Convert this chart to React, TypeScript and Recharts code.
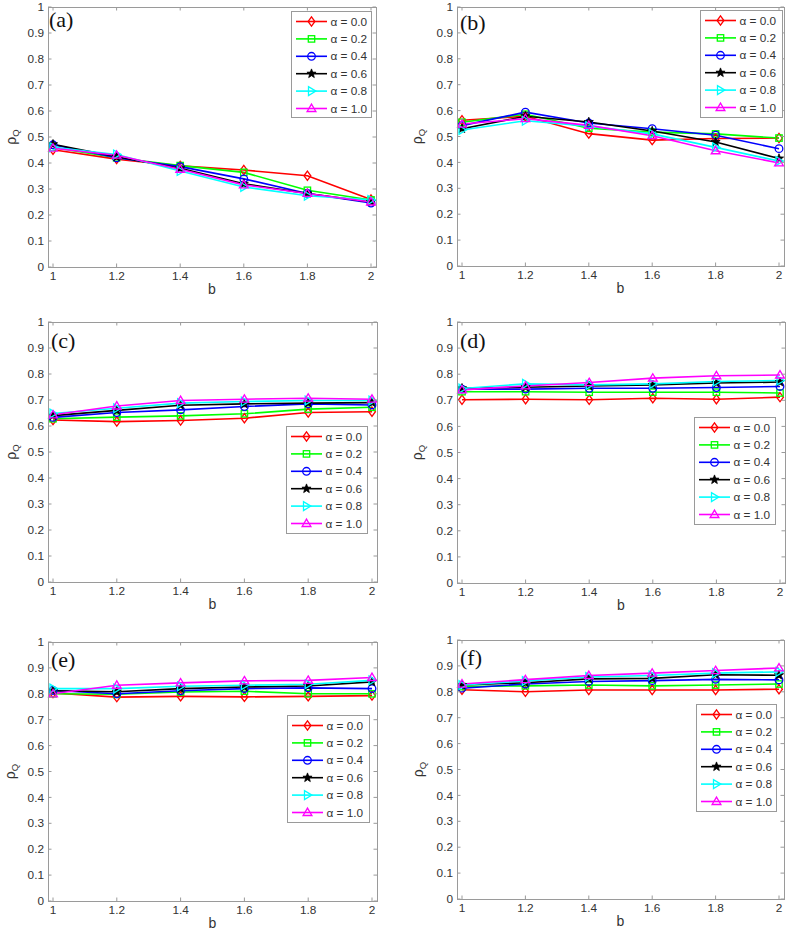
import React from 'react';
import { LineChart, Line, XAxis, YAxis, Legend } from 'recharts';

const bValues = [1, 1.2, 1.4, 1.6, 1.8, 2];
const yTicks = [0, 0.1, 0.2, 0.3, 0.4, 0.5, 0.6, 0.7, 0.8, 0.9, 1];
const alphaLabels = ['α = 0.0', 'α = 0.2', 'α = 0.4', 'α = 0.6', 'α = 0.8', 'α = 1.0'];
const seriesColors = ['#ff0000', '#00ff00', '#0000ff', '#000000', '#00ffff', '#ff00ff'];
const seriesMarkers = ['diamond', 'square', 'circle', 'star', 'right', 'up'];

// rho_Q per alpha (rows) against b (columns)
const rhoA = [
  [0.451, 0.415, 0.389, 0.373, 0.351, 0.26],
  [0.46, 0.42, 0.39, 0.364, 0.295, 0.258],
  [0.47, 0.42, 0.386, 0.339, 0.283, 0.246],
  [0.472, 0.424, 0.38, 0.32, 0.283, 0.25],
  [0.46, 0.433, 0.369, 0.308, 0.274, 0.258],
  [0.457, 0.43, 0.376, 0.316, 0.283, 0.25],
];
const rhoB = [
  [0.563, 0.578, 0.511, 0.486, 0.492, 0.494],
  [0.555, 0.586, 0.532, 0.517, 0.51, 0.494],
  [0.542, 0.594, 0.552, 0.53, 0.505, 0.453],
  [0.53, 0.578, 0.556, 0.521, 0.479, 0.415],
  [0.525, 0.561, 0.54, 0.51, 0.458, 0.405],
  [0.548, 0.569, 0.543, 0.503, 0.445, 0.398],
];
const rhoC = [
  [0.623, 0.617, 0.621, 0.63, 0.652, 0.655],
  [0.628, 0.634, 0.639, 0.647, 0.665, 0.672],
  [0.633, 0.652, 0.662, 0.675, 0.685, 0.681],
  [0.64, 0.66, 0.68, 0.685, 0.688, 0.69],
  [0.648, 0.668, 0.688, 0.694, 0.698, 0.698],
  [0.643, 0.677, 0.698, 0.703, 0.707, 0.703],
];
const rhoD = [
  [0.702, 0.704, 0.702, 0.708, 0.704, 0.712],
  [0.733, 0.733, 0.731, 0.731, 0.731, 0.728],
  [0.743, 0.743, 0.746, 0.746, 0.749, 0.753],
  [0.746, 0.75, 0.755, 0.759, 0.766, 0.77],
  [0.745, 0.763, 0.759, 0.763, 0.772, 0.776],
  [0.74, 0.755, 0.768, 0.785, 0.794, 0.797],
];
const rhoE = [
  [0.803, 0.787, 0.79, 0.788, 0.79, 0.793],
  [0.8, 0.798, 0.807, 0.81, 0.8, 0.8],
  [0.813, 0.8, 0.812, 0.82, 0.823, 0.82],
  [0.812, 0.808, 0.82, 0.826, 0.83, 0.846],
  [0.82, 0.82, 0.829, 0.833, 0.837, 0.852],
  [0.8, 0.833, 0.842, 0.85, 0.852, 0.863],
];
const rhoF = [
  [0.808, 0.8, 0.807, 0.807, 0.807, 0.81],
  [0.82, 0.823, 0.826, 0.823, 0.826, 0.83],
  [0.814, 0.83, 0.84, 0.843, 0.848, 0.846],
  [0.826, 0.835, 0.85, 0.852, 0.866, 0.864],
  [0.826, 0.842, 0.857, 0.863, 0.872, 0.877],
  [0.83, 0.847, 0.863, 0.872, 0.882, 0.892],
];

const AXIS = '#9a9a9a';
const TEXT = '#333333';
const SANS = '"Liberation Sans", Arial, Helvetica, sans-serif';

// plot boxes (page px) and legend / label placement
const panels = [
  { tag: '(a)', rho: rhoA, L: 48, T: 7, R: 376, B: 267, leg: [291, 11, 81, 107], lab: [49, 27], yl: 35 },
  { tag: '(b)', rho: rhoB, L: 457, T: 7, R: 784, B: 266, leg: [700, 10, 83, 108], lab: [460, 30], yl: 38 },
  { tag: '(c)', rho: rhoC, L: 48, T: 322, R: 377, B: 582, leg: [286, 426, 82, 108], lab: [51, 348], yl: 35 },
  { tag: '(d)', rho: rhoD, L: 457, T: 322, R: 785, B: 583, leg: [694, 417, 82, 108], lab: [460, 348], yl: 38 },
  { tag: '(e)', rho: rhoE, L: 48, T: 642, R: 377, B: 901, leg: [287, 715, 83, 108], lab: [51, 667], yl: 36 },
  { tag: '(f)', rho: rhoF, L: 457, T: 640, R: 784, B: 899, leg: [696, 704, 81, 108], lab: [460, 665], yl: 37 },
];

function Marker({ kind, cx, cy, color }: { kind: string; cx: number; cy: number; color: string }) {
  const common = { stroke: color, strokeWidth: 1.3, fill: 'none' };
  if (kind === 'diamond') {
    return <polygon {...common} points={`${cx},${cy - 4.6} ${cx + 3.4},${cy} ${cx},${cy + 4.6} ${cx - 3.4},${cy}`} />;
  }
  if (kind === 'square') {
    return <rect {...common} x={cx - 3.2} y={cy - 3.2} width={6.4} height={6.4} />;
  }
  if (kind === 'circle') {
    return <circle {...common} cx={cx} cy={cy} r={3.8} />;
  }
  if (kind === 'star') {
    const pts: string[] = [];
    for (let k = 0; k < 10; k++) {
      const r = k % 2 === 0 ? 4.8 : 2;
      const a = -Math.PI / 2 + (k * Math.PI) / 5;
      pts.push(`${cx + r * Math.cos(a)},${cy + r * Math.sin(a)}`);
    }
    return <polygon stroke={color} strokeWidth={0.8} fill={color} points={pts.join(' ')} />;
  }
  if (kind === 'right') {
    return <polygon {...common} points={`${cx + 4.4},${cy} ${cx - 3},${cy - 4.4} ${cx - 3},${cy + 4.4}`} />;
  }
  return <polygon {...common} points={`${cx},${cy - 4.4} ${cx + 4.4},${cy + 3} ${cx - 4.4},${cy + 3}`} />;
}

function LegendBox({ w, h }: { w: number; h: number }) {
  return (
    <svg width={w} height={h} style={{ display: 'block' }}>
      <rect x={0.5} y={0.5} width={w - 1} height={h - 1} fill="#ffffff" stroke={AXIS} />
      {alphaLabels.map((label, i) => {
        const cy = 10.5 + i * 17.4;
        return (
          <g key={label}>
            <line x1={5} x2={36} y1={cy} y2={cy} stroke={seriesColors[i]} strokeWidth={1.6} />
            <Marker kind={seriesMarkers[i]} cx={20.5} cy={cy} color={seriesColors[i]} />
            <text x={39.5} y={cy} dy="0.35em" fontSize={11.8} fill={TEXT} fontFamily={SANS}>
              {label}
            </text>
          </g>
        );
      })}
    </svg>
  );
}

function Panel({ p }: { p: (typeof panels)[number] }) {
  const left = p.L - 48;
  const top = p.T - 10;
  const plotW = p.R - p.L;
  const plotH = p.B - p.T;
  const width = plotW + 48 + 4;
  const height = plotH + 10 + 40;

  const data = bValues.map((b, j) => {
    const row: Record<string, number> = { b };
    p.rho.forEach((s, i) => {
      row[`s${i}`] = s[j];
    });
    return row;
  });

  const yTick = (props: any) => {
    const { x, y, payload } = props;
    const ax = x + 4;
    return (
      <g>
        <line x1={ax} x2={ax + 3.5} y1={y} y2={y} stroke={AXIS} />
        <line x1={ax + plotW} x2={ax + plotW - 3.5} y1={y} y2={y} stroke={AXIS} />
        <text x={x} y={y} dy="0.35em" textAnchor="end" fontSize={11.8} fill={TEXT} fontFamily={SANS}>
          {payload.value}
        </text>
      </g>
    );
  };

  const xTick = (props: any) => {
    const { x, y, payload } = props;
    const ay = y - 5;
    return (
      <g>
        <line x1={x} x2={x} y1={ay} y2={ay - 3.5} stroke={AXIS} />
        <line x1={x} x2={x} y1={ay - plotH} y2={ay - plotH + 3.5} stroke={AXIS} />
        <text x={x} y={y} dy="0.71em" textAnchor="middle" fontSize={11.8} fill={TEXT} fontFamily={SANS}>
          {payload.value}
        </text>
      </g>
    );
  };

  const [lx, ly, lw, lh] = p.leg;

  return (
    <div style={{ position: 'absolute', left, top, width, height }}>
      <LineChart width={width} height={height} data={data} margin={{ top: 10, right: 4, bottom: 0, left: 0 }}>
        <XAxis
          type="number"
          dataKey="b"
          domain={[1, 2]}
          ticks={bValues}
          padding={{ left: 5, right: 5 }}
          height={40}
          axisLine={false}
          tickLine={false}
          tickSize={0}
          tickMargin={5}
          tick={xTick}
          interval={0}
        />
        <YAxis
          type="number"
          domain={[0, 1]}
          ticks={yTicks}
          width={48}
          axisLine={false}
          tickLine={false}
          tickSize={0}
          tickMargin={4}
          tick={yTick}
          interval={0}
        />
        <Legend
          layout="horizontal"
          verticalAlign="middle"
          align="center"
          wrapperStyle={{ left: lx - left, top: ly - top, width: lw, height: lh }}
          content={() => <LegendBox w={lw} h={lh} />}
        />
        {alphaLabels.map((label, i) => (
          <Line
            key={label}
            name={label}
            type="linear"
            dataKey={`s${i}`}
            stroke={seriesColors[i]}
            strokeWidth={1.6}
            isAnimationActive={false}
            activeDot={false}
            dot={(d: any) => (
              <Marker key={`${label}-${d.index}`} kind={seriesMarkers[i]} cx={d.cx} cy={d.cy} color={seriesColors[i]} />
            )}
          />
        ))}
      </LineChart>
    </div>
  );
}

export default function App() {
  return (
    <div style={{ position: 'absolute', left: 0, top: 0, width: 787, height: 935, background: '#ffffff' }}>
      {panels.map((p) => (
        <Panel key={p.tag} p={p} />
      ))}
      <svg width={787} height={935} style={{ position: 'absolute', left: 0, top: 0, pointerEvents: 'none' }}>
        {panels.map((p) => {
          const cy = (p.T + p.B) / 2;
          const yx = p.L - p.yl + 3;
          return (
            <g key={p.tag}>
              <rect x={p.L + 0.5} y={p.T + 0.5} width={p.R - p.L} height={p.B - p.T} fill="none" stroke={AXIS} />
              <text x={p.lab[0]} y={p.lab[1]} fontSize={22} fill="#111111" fontFamily='"Liberation Serif", "Times New Roman", serif'>
                {p.tag}
              </text>
              <text
                x={yx}
                y={cy}
                transform={`rotate(-90 ${yx} ${cy})`}
                textAnchor="middle"
                fontSize={14}
                fill={TEXT}
                fontFamily={SANS}
              >
                ρ<tspan fontSize={9.5} dy={3}>Q</tspan>
              </text>
              <text x={(p.L + p.R) / 2} y={p.B + 27} textAnchor="middle" fontSize={14} fill={TEXT} fontFamily={SANS}>
                b
              </text>
            </g>
          );
        })}
      </svg>
    </div>
  );
}
